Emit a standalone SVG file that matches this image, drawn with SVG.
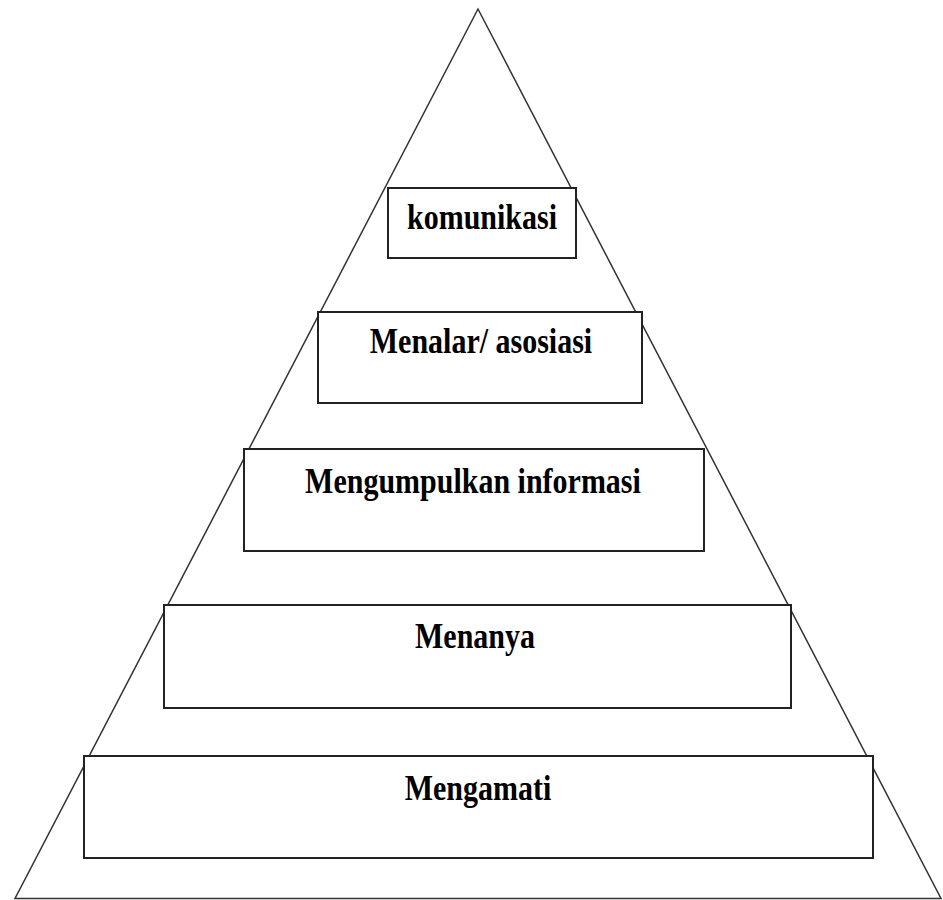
<svg xmlns="http://www.w3.org/2000/svg" width="943" height="900" viewBox="0 0 943 900">
  <style>
    .tri { fill: #ffffff; stroke: #333333; stroke-width: 1.5; }
    .box { fill: #ffffff; stroke: #222222; stroke-width: 2; }
    .lbl { font-family: "Liberation Serif", "Times New Roman", serif; font-weight: bold; font-size: 30px; fill: #000000; text-anchor: middle; }
  </style>
  <rect width="943" height="900" fill="#ffffff"/>
  <g id="pyramid">
    <polygon class="tri" points="478,9 15,898.5 941,898.5"/>
  </g>
  <g id="connectors"/>
  <g id="node-komunikasi">
    <rect class="box" x="388" y="188" width="188" height="70"/>
    <text class="lbl" transform="translate(482,229) scale(1,1.18)">komunikasi</text>
  </g>
  <g id="node-menalar">
    <rect class="box" x="318" y="312" width="324" height="91"/>
    <text class="lbl" transform="translate(481,353) scale(1,1.18)">Menalar/ asosiasi</text>
  </g>
  <g id="node-mengumpulkan">
    <rect class="box" x="244" y="449" width="460" height="102"/>
    <text class="lbl" transform="translate(473,493) scale(1,1.18)">Mengumpulkan informasi</text>
  </g>
  <g id="node-menanya">
    <rect class="box" x="164" y="605" width="627" height="103"/>
    <text class="lbl" transform="translate(475,648) scale(1,1.18)">Menanya</text>
  </g>
  <g id="node-mengamati">
    <rect class="box" x="84" y="756" width="789" height="102"/>
    <text class="lbl" transform="translate(478,800) scale(1,1.18)">Mengamati</text>
  </g>
</svg>
